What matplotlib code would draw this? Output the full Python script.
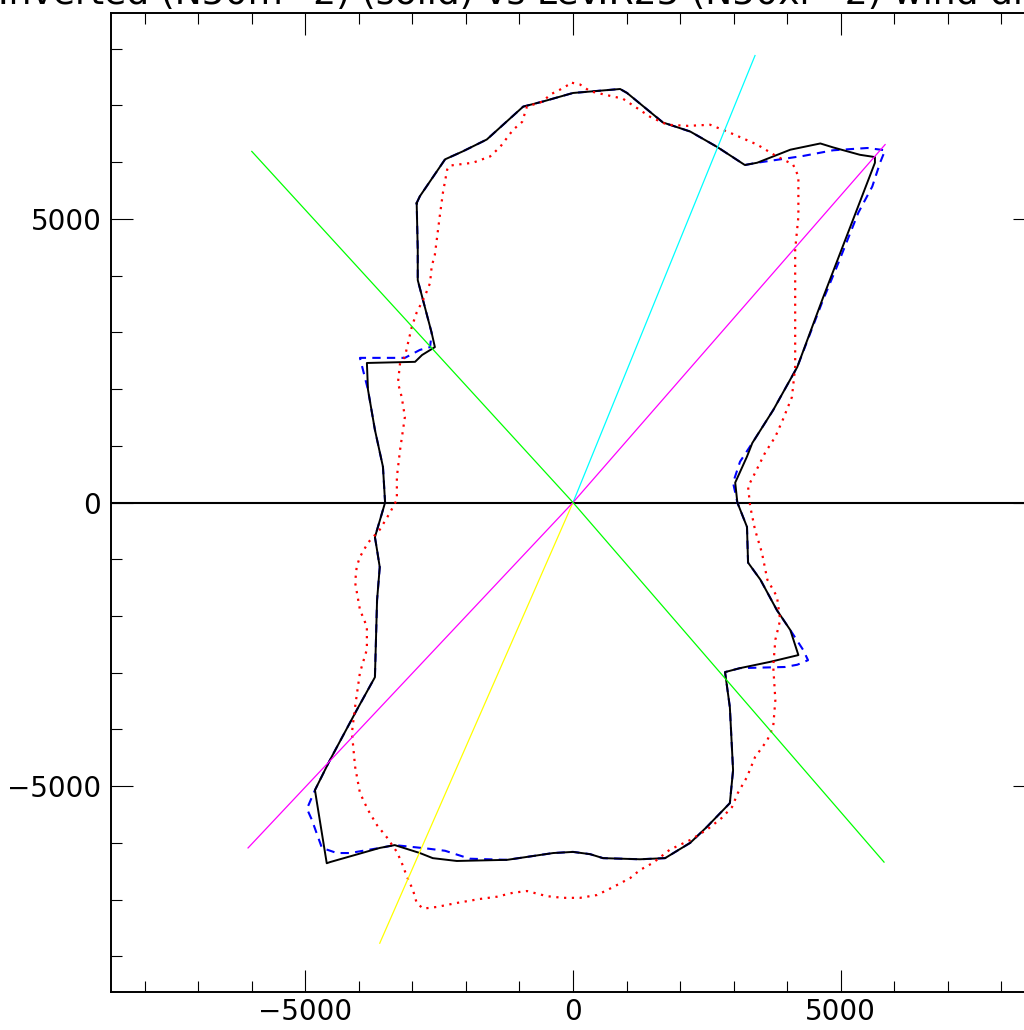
#!/usr/bin/env python3
"""Inverted vs Lev.R25 wind direction outline, replotted with matplotlib."""

import matplotlib
matplotlib.use("Agg")
import matplotlib.pyplot as plt
from matplotlib.ticker import MultipleLocator

TITLE = "Inverted (N50m^2) (solid) vs Lev.R25 (N50xr^2) wind direction"

# solid black outline (x, y)
SOLID_X = [-2920, -2860, -2390, -2060, -1610, -930, -560, 0, 880, 1010, 1680, 2190,
           2690, 3210, 3440, 4060, 4620, 4860, 5360, 5640, 5640, 4670, 4190, 3740,
           3350, 3250, 3030, 3070, 3250, 3270, 3500, 3810, 4060, 4210, 3680, 3120,
           2840, 2930, 2990, 2930, 2500, 2190, 1720, 1250, 560, 320, 0, -370, -1230,
           -2170, -2620, -2860, -3330, -3610, -4540, -4600, -4790, -4820, -4540, -4040,
           -3700, -3660, -3610, -3660, -3700, -3550, -3510, -3550, -3700, -3830, -3850,
           -2950, -2820, -2580, -2640, -2900, -2900, -2920]
SOLID_Y = [5280, 5400, 6050, 6190, 6400, 6980, 7070, 7220, 7290, 7220, 6700, 6540,
           6270, 5950, 5990, 6220, 6330, 6260, 6130, 6090, 5990, 3610, 2390, 1630,
           1050, 810, 350, 0, -430, -1060, -1360, -1900, -2250, -2690, -2810, -2920,
           -2990, -3610, -4720, -5300, -5720, -6000, -6270, -6290, -6270, -6200, -6160,
           -6180, -6300, -6320, -6270, -6180, -6040, -6090, -6340, -6360, -5250, -5070,
           -4540, -3660, -3080, -1720, -1140, -840, -610, -130, 0, 630, 1280, 1990, 2460,
           2480, 2600, 2740, 2990, 3920, 4450, 5280]

# dashed blue outline
DASH_X = [-2920, -2860, -2390, -2060, -1610, -930, -560, 0, 880, 1010, 1680, 2190,
          2690, 3210, 3440, 4300, 4860, 5500, 5830, 5740, 5590, 5330, 4930, 4750,
          4670, 4190, 3740, 3350, 3120, 2990, 3070, 3250, 3270, 3500, 3810, 4060,
          4300, 4390, 4190, 3960, 3120, 2840, 2930, 2990, 2930, 2500, 2190, 1720, 1250,
          560, 320, 0, -370, -1230, -1930, -2390, -2730, -3330, -3610, -4170, -4410,
          -4690, -4880, -4970, -4820, -4540, -4040, -3700, -3660, -3610, -3660, -3700,
          -3550, -3510, -3550, -3700, -3830, -3980, -3140, -2860, -2670, -2640, -2900,
          -2900, -2920]
DASH_Y = [5280, 5400, 6050, 6190, 6400, 6980, 7070, 7220, 7290, 7220, 6700, 6540,
          6270, 5950, 5990, 6110, 6210, 6250, 6210, 6000, 5570, 5110, 4160, 3750,
          3570, 2390, 1630, 1050, 720, 350, 0, -430, -1060, -1360, -1900, -2250,
          -2600, -2780, -2860, -2900, -2920, -2990, -3610, -4720, -5300, -5720, -6000,
          -6270, -6290, -6270, -6200, -6160, -6180, -6300, -6280, -6140, -6100, -6040,
          -6090, -6180, -6180, -6090, -5590, -5400, -5070, -4540, -3660, -3080, -1720,
          -1140, -840, -610, -130, 0, 630, 1280, 1990, 2550, 2550, 2690, 2740, 2990,
          3920, 4450, 5280]

# dotted red outline
DOT_X = [-20, 130, 320, 690, 930, 1250, 1440, 1760, 2150, 2560, 2930, 3440, 3810,
         4110, 4210, 4210, 4150, 4150, 4150, 4090, 3920, 3780, 3590, 3400, 3270, 3310,
         3400, 3530, 3630, 3810, 3870, 3780, 3740, 3780, 3740, 3630, 3400, 3250, 3080,
         2970, 2780, 2500, 2190, 1810, 1500, 1250, 1070, 750, 450, 130, -190, -490,
         -860, -1120, -1420, -1740, -2170, -2540, -2800, -2920, -2990, -3100, -3200,
         -3290, -3480, -3660, -3830, -3920, -3980, -4070, -4130, -4070, -3980, -3850,
         -3850, -3980, -4070, -4040, -3980, -3830, -3610, -3420, -3290, -3290, -3230,
         -3140, -3200, -3270, -3230, -3140, -3080, -3010, -2920, -2770, -2670, -2640,
         -2580, -2490, -2430, -2350, -2300, -1870, -1550, -1360, -1120, -950, -860,
         -560, -430, -240, -20]
DOT_Y = [7400, 7370, 7250, 7170, 7120, 6920, 6800, 6660, 6640, 6660, 6520, 6310, 6100,
         5960, 5750, 5040, 4460, 3610, 2390, 1860, 1460, 1160, 880, 520, 280, -70,
         -480, -890, -1360, -1660, -2070, -2420, -2890, -3480, -3950, -4190, -4490,
         -4840, -5120, -5370, -5560, -5770, -5950, -6120, -6350, -6480, -6620, -6780,
         -6920, -6970, -6970, -6940, -6850, -6880, -6950, -6990, -7060, -7130, -7160,
         -7060, -6830, -6600, -6350, -6160, -5900, -5690, -5420, -5240, -5120, -4660,
         -4060, -3600, -3000, -2590, -2190, -1890, -1410, -1130, -960, -710, -480,
         -180, 50, 450, 930, 1510, 1860, 2110, 2460, 2570, 2820, 3100, 3350, 3630,
         3870, 4160, 4370, 5040, 5460, 5870, 5940, 5990, 6100, 6270, 6570, 6710, 6980,
         7070, 7190, 7280, 7400]

# direction lines drawn out from the origin: (end x, end y, colour)
DIRECTIONS = [
    (3400, 7880, "#00ffff"),
    (-3610, -7770, "#ffff00"),
    (5830, 6310, "#ff00ff"),
    (-6070, -6090, "#ff00ff"),
    (-6000, 6190, "#00ff00"),
    (5810, -6340, "#00ff00"),
]

LIM = 8630


def main() -> None:
    fig = plt.figure(figsize=(10.24, 10.30), dpi=100)
    ax = fig.add_axes([111 / 1024, 38 / 1030, 924 / 1024, 979 / 1030])

    ax.axhline(0, color="black", linewidth=1.5, zorder=2)

    ax.plot(DASH_X, DASH_Y, color="#0000ff", linewidth=1.5,
            linestyle=(0, (4, 3)), zorder=3)
    ax.plot(SOLID_X, SOLID_Y, color="black", linewidth=1.4, zorder=4)
    ax.plot(DOT_X, DOT_Y, color="#ff0000", linewidth=1.6,
            linestyle=(0, (1, 2.5)), zorder=5)

    for x_end, y_end, color in DIRECTIONS:
        ax.plot([0, x_end], [0, y_end], color=color, linewidth=0.9, zorder=6)

    ax.set_xlim(-LIM, LIM)
    ax.set_ylim(-LIM, LIM)
    ax.xaxis.set_major_locator(MultipleLocator(5000))
    ax.xaxis.set_minor_locator(MultipleLocator(1000))
    ax.yaxis.set_major_locator(MultipleLocator(5000))
    ax.yaxis.set_minor_locator(MultipleLocator(1000))
    ax.tick_params(which="both", direction="in", top=True, right=True,
                   width=0.8, colors="black")
    ax.tick_params(which="major", length=16, labelsize=20)
    ax.tick_params(which="minor", length=8)
    ax.tick_params(axis="x", pad=4)
    ax.tick_params(axis="y", pad=7)
    for spine in ax.spines.values():
        spine.set_linewidth(1.4)

    # title sits mostly above the top edge, as in the original
    fig.text(ax.get_position().x0 + ax.get_position().width / 2, 1 - 4 / 1030,
             TITLE, ha="center", va="baseline", fontsize=26)

    fig.savefig("out.png", dpi=100)
    plt.close(fig)


if __name__ == "__main__":
    main()
